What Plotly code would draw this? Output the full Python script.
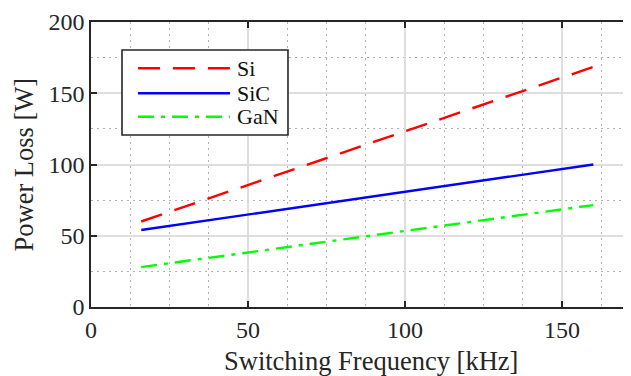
import plotly.graph_objects as go

freq = [16, 160]
si = [60, 168.5]
sic = [54, 100]
gan = [28, 71.5]
series_names = ["Si", "SiC", "GaN"]

x_ticks = [0, 50, 100, 150]
y_ticks = [0, 50, 100, 150, 200]

FONT = "Liberation Serif"
AX = "#262626"
LW = 2.4
styles = {
    "Si": dict(color="#ff0000", width=LW, dash="22px,13px"),
    "SiC": dict(color="#0000ff", width=LW),
    "GaN": dict(color="#00ff00", width=LW, dash="16px,7px,4px,7px"),
}
values = {"Si": si, "SiC": sic, "GaN": gan}

fig = go.Figure()
for name in series_names:
    fig.add_trace(go.Scatter(x=freq, y=values[name], mode="lines", name=name,
                             line=styles[name], showlegend=False))

# manual MATLAB-like legend box
lx0, lx1, ly0, ly1 = 0.0574, 0.3648, 0.6035, 0.9018
fig.add_shape(type="rect", xref="paper", yref="paper", x0=lx0, x1=lx1, y0=ly0, y1=ly1,
              line=dict(color=AX, width=1.6), fillcolor="white", layer="above")
row_y = [0.8375, 0.7498, 0.6677]
for name, ry in zip(series_names, row_y):
    fig.add_shape(type="line", xref="paper", yref="paper", x0=0.0870, x1=0.2574,
                  y0=ry, y1=ry, line=styles[name], layer="above")
    fig.add_annotation(xref="paper", yref="paper", x=0.2667, y=ry, text=name,
                       showarrow=False, xanchor="left", yanchor="middle",
                       font=dict(family=FONT, size=22, color="#111"))

# axis titles
fig.add_annotation(xref="paper", yref="paper", x=0, y=0.5, xshift=-68,
                   text="Power Loss [W]", textangle=-90, showarrow=False,
                   xanchor="center", yanchor="middle",
                   font=dict(family=FONT, size=26.5, color=AX))
fig.add_annotation(xref="paper", yref="paper", x=(370.5 - 91) / 540, y=0, yshift=-53.5,
                   text="Switching Frequency [kHz]", showarrow=False,
                   xanchor="center", yanchor="middle",
                   font=dict(family=FONT, size=26.5, color=AX))

fig.update_layout(
    width=623, height=368,
    margin=dict(l=83, r=0, t=14, b=69),
    paper_bgcolor="white", plot_bgcolor="white",
    font=dict(family=FONT, size=24, color=AX),
    showlegend=False,
)
fig.update_xaxes(
    range=[0, 172], tickvals=x_ticks, ticks="inside", ticklen=6, tickwidth=1.6,
    tickcolor=AX, showline=True, linecolor=AX, linewidth=1.6, mirror="ticks",
    showgrid=True, gridcolor="#dedede", gridwidth=1.8, zeroline=False,
    automargin=False,
    minor=dict(dtick=12.5, tick0=0, showgrid=True, gridcolor="#b0b0b0",
               griddash="2px,4px", gridwidth=1.3, ticks=""),
    tickfont=dict(size=24, family=FONT),
)
fig.update_yaxes(
    range=[0, 200], tickvals=y_ticks, ticks="inside", ticklen=6, tickwidth=1.6,
    tickcolor=AX, showline=True, linecolor=AX, linewidth=1.6, mirror=False,
    showgrid=True, gridcolor="#dedede", gridwidth=1.8, zeroline=False,
    automargin=False,
    minor=dict(dtick=25, tick0=0, showgrid=True, gridcolor="#b0b0b0",
               griddash="2px,4px", gridwidth=1.3, ticks=""),
    tickfont=dict(size=24, family=FONT),
)

fig.write_html("out.html")
